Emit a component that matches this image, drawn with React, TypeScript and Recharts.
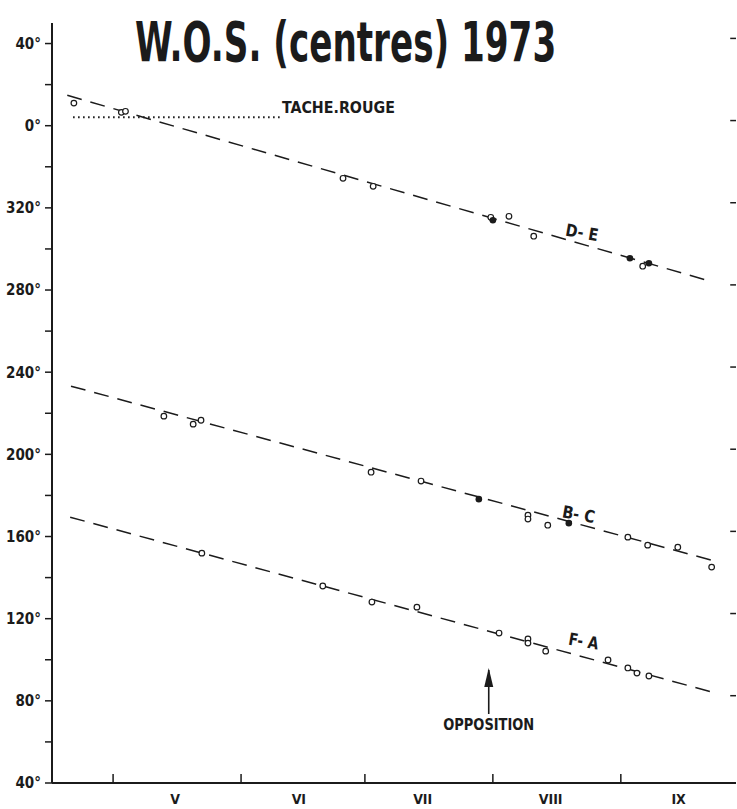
import { ComposedChart, ReferenceDot, ReferenceLine, Scatter, XAxis, YAxis } from 'recharts';

// day of year 1973 on x, longitude (deg, unwrapped past 360) on y
const MONTH_STARTS = [121, 152, 182, 213, 244];
const MONTH_MIDS = [136, 166, 196, 227, 258];
const MONTH_NAMES = ['V', 'VI', 'VII', 'VIII', 'IX'];
const DEG_TICKS = [40, 60, 80, 100, 120, 140, 160, 180, 200, 220, 240, 260, 280, 300, 320, 340, 360, 380, 400];
const RIGHT_TICKS = [80, 120, 160, 200, 240, 280, 320, 360, 400];

const DE_OPEN = [
  [111.5, 371], [123, 366.5], [124, 367], [176.7, 334.4], [184, 330.5],
  [212.5, 315.4], [216.9, 315.9], [222.9, 306.2], [249.3, 291.6],
];
const DE_FILLED = [[213, 314], [246.2, 295.5], [250.8, 293]];
const DE_FIT = [[109.9, 374.8], [264.8, 284.8]];

const BC_OPEN = [
  [133.3, 218.6], [140.4, 214.7], [142.3, 216.6], [183.5, 191.3], [195.6, 187],
  [221.5, 170.4], [221.5, 168.5], [226.3, 165.5], [245.7, 159.7], [250.5, 155.8],
  [257.8, 154.8], [266, 145.1],
];
const BC_FILLED = [[209.6, 178.2], [231.4, 166.5]];
const BC_FIT = [[110.8, 233.2], [266.8, 148]];

const FA_OPEN = [
  [142.5, 151.9], [171.8, 135.9], [183.7, 128.1], [194.6, 125.6], [214.5, 113],
  [221.5, 110.1], [221.5, 108.1], [225.8, 104.2], [240.9, 99.9], [245.7, 96],
  [247.9, 93.5], [250.8, 92.1],
];
const FA_FIT = [[110.6, 169.4], [267, 83.8]];

const RED_SPOT = [[111.3, 364.1], [161.4, 364.1]];
const OPPOSITION_DAY = 212;

const X_DOMAIN = [106.2, 271.9];
const INK = '#1b1b1b';
const FONT = "'DejaVu Sans Condensed', 'DejaVu Sans', sans-serif";
const X = { xAxisId: 't', yAxisId: 'l' } as const;

const pts = (arr: number[][]) => arr.map(([day, deg]) => ({ day, deg }));
const seg = (arr: number[][]) => arr.map(([x, y]) => ({ x, y }));

const OpenDot = (p: any) => (
  <circle cx={p.cx} cy={p.cy} r={2.8} fill="#fff" stroke={INK} strokeWidth={1.2} />
);
const FilledDot = (p: any) => <circle cx={p.cx} cy={p.cy} r={3.3} fill={INK} />;

const DegTick = ({ x, y, payload }: any) =>
  payload.value % 40 === 0 ? (
    <text x={x - 2} y={y} dy="0.36em" textAnchor="end" fontFamily={FONT} fontWeight="bold" fontSize={15} fill={INK}>
      {`${payload.value % 360}°`}
    </text>
  ) : null;

// month boundary marks pointing up into the plot
const MonthMark = ({ x, y }: any) => (
  <line x1={x} x2={x} y1={y} y2={y - 9} stroke={INK} strokeWidth={1.5} />
);

const tag =
  (text: string, rot: number, opts: { anchor?: string; size?: number; len?: number; dy?: number } = {}) =>
  (p: any) => (
    <text
      x={p.cx}
      y={p.cy}
      dy={opts.dy ?? '0.36em'}
      textAnchor={opts.anchor ?? 'middle'}
      transform={rot ? `rotate(${rot} ${p.cx} ${p.cy})` : undefined}
      fontFamily={FONT}
      fontWeight="bold"
      fontSize={opts.size ?? 17}
      fill={INK}
      textLength={opts.len}
      lengthAdjust={opts.len ? 'spacingAndGlyphs' : undefined}
    >
      {text}
    </text>
  );

const Arrow = (p: any) => (
  <g>
    <line x1={p.cx} x2={p.cx} y1={p.cy + 2} y2={p.cy + 46} stroke={INK} strokeWidth={1.6} />
    <path d={`M${p.cx},${p.cy} L${p.cx - 4.5},${p.cy + 19} L${p.cx + 4.5},${p.cy + 19} Z`} fill={INK} />
  </g>
);

export default function App() {
  return (
    <div style={{ position: 'absolute', left: 0, top: 0, width: 737, height: 809, background: '#fff' }}>
      <ComposedChart width={737} height={809} margin={{ top: 23, right: 1, bottom: 0, left: 0 }}>
        <XAxis
          xAxisId="t"
          type="number"
          dataKey="day"
          domain={X_DOMAIN}
          ticks={MONTH_STARTS}
          height={26}
          tickSize={0}
          tickMargin={0}
          tickLine={false}
          tick={MonthMark}
          axisLine={{ stroke: INK, strokeWidth: 2 }}
          interval={0}
          allowDataOverflow
        />
        <YAxis
          yAxisId="l"
          type="number"
          dataKey="deg"
          domain={[40, 410]}
          ticks={DEG_TICKS}
          width={52}
          tickSize={7}
          tick={DegTick}
          tickLine={{ stroke: INK, strokeWidth: 1.5 }}
          axisLine={{ stroke: INK, strokeWidth: 2 }}
          interval={0}
          allowDataOverflow
        />

        {RIGHT_TICKS.map((v) => (
          <ReferenceLine
            key={v}
            {...X}
            segment={[{ x: X_DOMAIN[1] - 1.4, y: v + 2.5 }, { x: X_DOMAIN[1], y: v + 2.5 }]}
            stroke={INK}
            strokeWidth={1.5}
          />
        ))}

        <ReferenceLine {...X} segment={seg(DE_FIT)} stroke={INK} strokeWidth={1.5} strokeDasharray="15 9" />
        <ReferenceLine {...X} segment={seg(BC_FIT)} stroke={INK} strokeWidth={1.5} strokeDasharray="15 9" />
        <ReferenceLine {...X} segment={seg(FA_FIT)} stroke={INK} strokeWidth={1.5} strokeDasharray="15 9" />
        <ReferenceLine {...X} segment={seg(RED_SPOT)} stroke={INK} strokeWidth={2} strokeDasharray="1.6 3.4" />

        <Scatter {...X} data={pts(DE_OPEN)} dataKey="deg" shape={OpenDot} isAnimationActive={false} />
        <Scatter {...X} data={pts(DE_FILLED)} dataKey="deg" shape={FilledDot} isAnimationActive={false} />
        <Scatter {...X} data={pts(BC_OPEN)} dataKey="deg" shape={OpenDot} isAnimationActive={false} />
        <Scatter {...X} data={pts(BC_FILLED)} dataKey="deg" shape={FilledDot} isAnimationActive={false} />
        <Scatter {...X} data={pts(FA_OPEN)} dataKey="deg" shape={OpenDot} isAnimationActive={false} />

        <ReferenceDot {...X} x={234.6} y={308.1} r={0} shape={tag('D- E', 10, { len: 33 })} />
        <ReferenceDot {...X} x={233.8} y={170.9} r={0} shape={tag('B- C', 10, { len: 33 })} />
        <ReferenceDot {...X} x={235} y={109.1} r={0} shape={tag('F- A', 10, { len: 30 })} />
        <ReferenceDot {...X} x={161.9} y={368.7} r={0} shape={tag('TACHE.ROUGE', 0, { anchor: 'start', size: 15, len: 113 })} />
        <ReferenceDot {...X} x={OPPOSITION_DAY} y={96} r={0} shape={Arrow} />
        <ReferenceDot {...X} x={OPPOSITION_DAY} y={68.2} r={0} shape={tag('OPPOSITION', 0, { size: 15, len: 91 })} />
        {MONTH_MIDS.map((d, i) => (
          <ReferenceDot key={d} {...X} x={d} y={40} r={0} shape={tag(MONTH_NAMES[i], 0, { size: 14, dy: 21 })} />
        ))}
      </ComposedChart>
      <svg width={737} height={80} style={{ position: 'absolute', left: 0, top: 0 }}>
        <g transform="translate(135 61) scale(0.675 1)">
          <text
            x={0}
            y={0}
            fontFamily={FONT}
            fontSize={56}
            fontWeight="bold"
            fill={INK}
            textLength={624}
            lengthAdjust="spacingAndGlyphs"
          >
            W.O.S. (centres) 1973
          </text>
        </g>
      </svg>
    </div>
  );
}
